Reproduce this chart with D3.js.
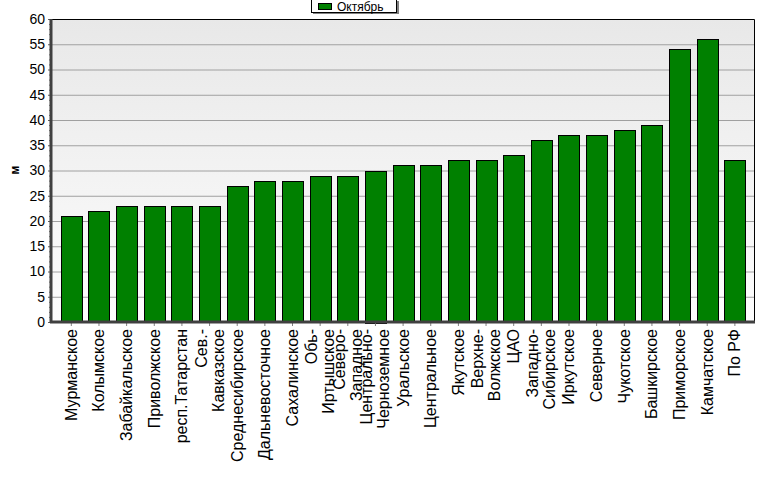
<!DOCTYPE html>
<html><head><meta charset="utf-8">
<script src="https://cdn.jsdelivr.net/npm/d3@7"></script>
<style>body{margin:0;background:#fff}svg{display:block}</style>
</head><body>
<svg id="c" width="777" height="479"></svg>
<script>
const categories = ["Мурманское","Колымское","Забайкальское","Приволжское","респ.Татарстан","Сев.-\nКавказское","Среднесибирское","Дальневосточное","Сахалинское","Обь-\nИртышское","Северо-\nЗападное","Центрально-\nЧерноземное","Уральское","Центральное","Якутское","Верхне-\nВолжское","ЦАО","Западно-\nСибирское","Иркутское","Северное","Чукотское","Башкирское","Приморское","Камчатское","По РФ"];
const october = [21,22,23,23,23,23,27,28,28,29,29,30,31,31,32,32,33,36,37,37,38,39,54,56,32];
const yTicks = [0,5,10,15,20,25,30,35,40,45,50,55,60];
const seriesName = "Октябрь";
const yLabel = "м";

const svg = d3.select("#c");
const L = 51, R = 754, T = 19, B = 322;
const font = "'Liberation Sans', Arial, sans-serif";

const defs = svg.append("defs");
const g = defs.append("linearGradient").attr("id","bg").attr("x1",0).attr("y1",0).attr("x2",0).attr("y2",1);
g.append("stop").attr("offset","0%").attr("stop-color","#e8e8e8");
g.append("stop").attr("offset","100%").attr("stop-color","#fdfdfd");

const x = d3.scaleBand().domain(categories).range([57.5, 748.7]).paddingInner(0.24).paddingOuter(0.12);
const y = d3.scaleLinear().domain([0,60]).range([B, T]);

svg.append("rect").attr("x",L).attr("y",T).attr("width",R-L).attr("height",B-T).attr("fill","url(#bg)");

// gridlines
svg.append("g").selectAll("line").data(yTicks.filter(d=>d>0 && d<60)).join("line")
  .attr("x1",L).attr("x2",R).attr("y1",d=>y(d)+0.5).attr("y2",d=>y(d)+0.5)
  .attr("stroke","#a0a0a0").attr("stroke-width",1);

// border top/right
svg.append("path").attr("d",`M${L},${T+0.5}H${R+0.5}V${B}`).attr("fill","none").attr("stroke","#000").attr("stroke-width",1);

// bars
svg.append("g").selectAll("rect").data(october).join("rect")
  .attr("x",(d,i)=>Math.round(x(categories[i]))+0.5)
  .attr("y",d=>Math.round(y(d))+0.5)
  .attr("width",Math.round(x.bandwidth()))
  .attr("height",d=>Math.round(B - y(d)))
  .attr("fill","#008000").attr("stroke","#000").attr("stroke-width",1);

// y axis
const yAxis = d3.axisLeft(y).tickValues(yTicks).tickSize(3).tickPadding(3);
const ya = svg.append("g").attr("transform",`translate(${L},0)`).call(yAxis);
ya.select(".domain").remove();
ya.selectAll("line").attr("stroke","#606060");
ya.selectAll("text").attr("font-family",font).attr("font-size",14).attr("fill","#000");
// minor ticks
const minor = d3.range(0,61).filter(d=>d%5!==0);
svg.append("g").selectAll("line").data(minor).join("line")
  .attr("x1",L-2).attr("x2",L).attr("y1",d=>y(d)+0.5).attr("y2",d=>y(d)+0.5)
  .attr("stroke","#808080");

// x axis
const xAxis = d3.axisBottom(x).tickSize(4).tickFormat("");
const xa = svg.append("g").attr("transform",`translate(0,${B})`).call(xAxis);
xa.select(".domain").remove();
xa.selectAll("line").attr("stroke","#808080");

// axis lines
svg.append("line").attr("x1",L).attr("x2",L).attr("y1",T).attr("y2",B+1).attr("stroke","#404040").attr("stroke-width",3);
svg.append("line").attr("x1",L-1).attr("x2",R+1).attr("y1",B).attr("y2",B).attr("stroke","#404040").attr("stroke-width",3);

// x labels
const lh = 17;
categories.forEach(c=>{
  const lines = c.split("\n");
  const cx = x(c) + x.bandwidth()/2;
  const n = lines.length;
  const t = svg.append("text").attr("transform",`translate(${cx},329) rotate(-90)`)
    .attr("text-anchor","end").attr("font-family",font).attr("font-size",16).attr("fill","#000");
  lines.forEach((ln,j)=>{
    const off = (j - (n-1)/2)*lh;
    t.append("tspan").attr("x",0).attr("y",off + 5.5).text(ln);
  });
});

// y label
svg.append("text").attr("transform","translate(19,170) rotate(-90)").attr("text-anchor","middle")
  .attr("font-family",font).attr("font-size",12).attr("font-weight","bold").text(yLabel);

// legend
const lg = svg.append("g");
lg.append("rect").attr("x",313).attr("y",1).attr("width",86).attr("height",13).attr("fill","#808080");
lg.append("rect").attr("x",311.5).attr("y",-0.5).attr("width",85).attr("height",13).attr("fill","#fff").attr("stroke","#000");
lg.append("rect").attr("x",318.5).attr("y",3.5).attr("width",13).attr("height",6).attr("fill","#008000").attr("stroke","#000");
lg.append("text").attr("x",337).attr("y",11).attr("font-family",font).attr("font-size",12).text(seriesName);
</script>
</body></html>
